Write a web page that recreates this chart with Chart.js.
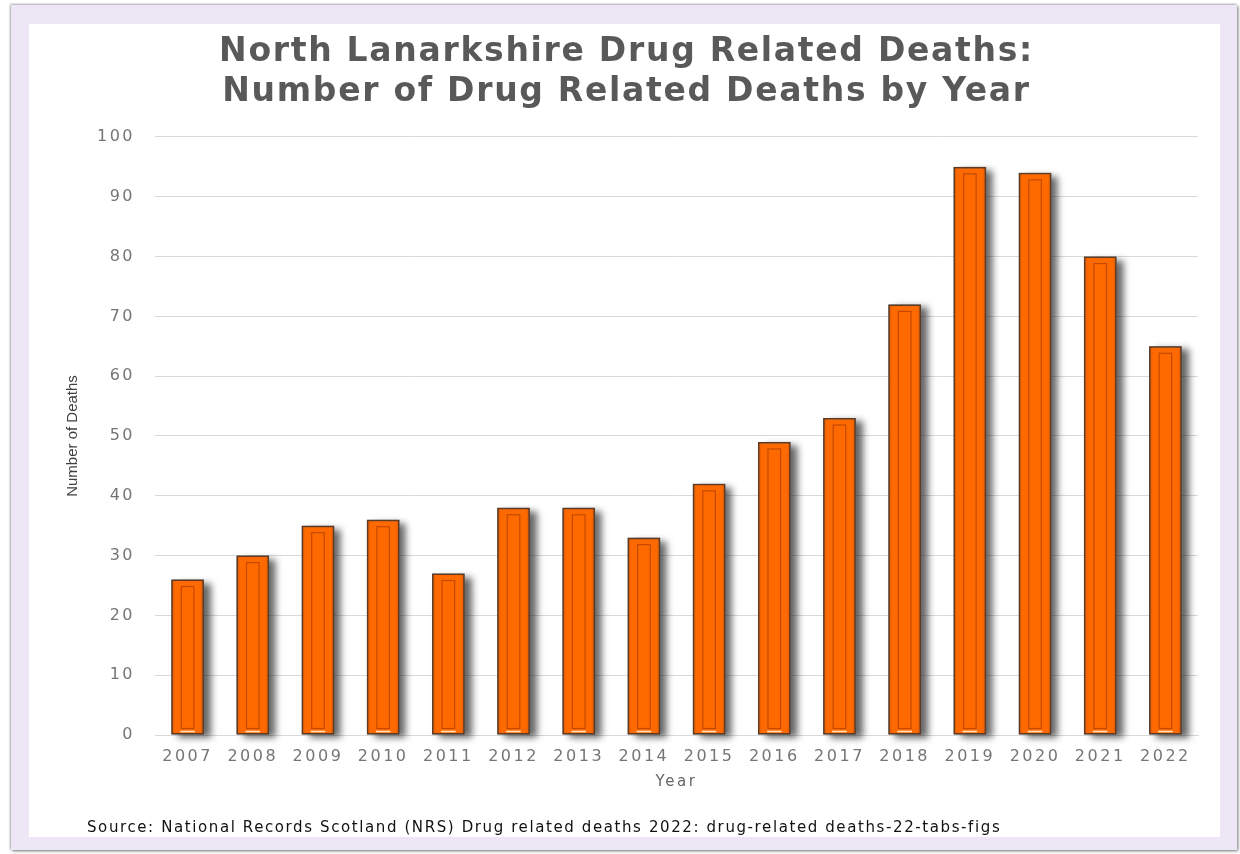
<!DOCTYPE html>
<html>
<head>
<meta charset="utf-8">
<script src="https://cdn.jsdelivr.net/npm/chart.js@4/dist/chart.umd.min.js"></script>
<style>
  html, body { margin: 0; padding: 0; background: #ffffff; width: 1240px; height: 854px; overflow: hidden; }
  #outer { position: absolute; left: 11px; top: 5px; width: 1226px; height: 845px; background: #ede6f4;
           box-shadow: 1px 1px 3px rgba(0,0,0,0.55), -1px -1px 2px rgba(0,0,0,0.25); }
  #inner { position: absolute; left: 29px; top: 24px; width: 1191px; height: 813px; background: #ffffff; }
  #wrap { position: absolute; left: 0; top: 0; width: 1240px; height: 854px; }
  #source { position: absolute; left: 87px; top: 818px; font-family: "DejaVu Sans", sans-serif; font-size: 15px; letter-spacing: 1.6px; color: #111; white-space: nowrap; }
</style>
</head>
<body>
<div id="outer"></div>
<div id="inner"></div>
<div id="wrap"><canvas id="c" width="1240" height="854"></canvas></div>
<div id="source">Source: National Records Scotland (NRS) Drug related deaths 2022: drug-related deaths-22-tabs-figs</div>
<script>
const years = ["2007","2008","2009","2010","2011","2012","2013","2014","2015","2016","2017","2018","2019","2020","2021","2022"];
const deaths = [26, 30, 35, 36, 27, 38, 38, 33, 42, 49, 53, 72, 95, 94, 80, 65];
const titleLines = ["North Lanarkshire Drug Related Deaths:", "Number of Drug Related Deaths by Year"];
const yAxisTitle = "Number of Deaths";
const xAxisTitle = "Year";

const TICK_SPACING = '2.5px';
const TITLE_SPACING = '1.7px';

function barRect(bar) {
  const p = bar.getProps(['x','y','base','width'], true);
  return { left: p.x - p.width / 2, top: Math.min(p.y, p.base), bottom: Math.max(p.y, p.base), width: p.width };
}

function withSpacing(obj, fnName, spacing) {
  if (!obj || obj['_sp_' + fnName]) return;
  const orig = obj[fnName].bind(obj);
  obj[fnName] = function(...args) {
    const ctx = this.ctx;
    const prev = ctx.letterSpacing;
    ctx.letterSpacing = spacing;
    const r = orig(...args);
    ctx.letterSpacing = prev;
    return r;
  };
  obj['_sp_' + fnName] = true;
}

const widenText = {
  id: 'widenText',
  beforeUpdate(chart) { chart.ctx.letterSpacing = TICK_SPACING; },
  beforeDraw(chart) {
    chart.ctx.letterSpacing = TICK_SPACING;
    withSpacing(chart.scales.y, 'drawTitle', '0px');
    withSpacing(chart.titleBlock, 'draw', TITLE_SPACING);
  }
};

const barDecor = {
  id: 'barDecor',
  beforeDatasetsDraw(chart) {
    const ctx = chart.ctx;
    const meta = chart.getDatasetMeta(0);
    ctx.save();
    ctx.shadowColor = 'rgba(0,0,0,0.6)';
    ctx.shadowBlur = 7;
    ctx.shadowOffsetX = 7;
    ctx.shadowOffsetY = 3;
    ctx.fillStyle = '#555555';
    meta.data.forEach(bar => {
      const r = barRect(bar);
      ctx.fillRect(r.left, r.top, r.width, r.bottom - r.top);
    });
    ctx.restore();
  },
  afterDatasetsDraw(chart) {
    const ctx = chart.ctx;
    const meta = chart.getDatasetMeta(0);
    ctx.save();
    meta.data.forEach(bar => {
      const r = barRect(bar);
      const g = ctx.createLinearGradient(r.left, 0, r.left + r.width, 0);
      g.addColorStop(0, 'rgba(150,50,0,0.35)');
      g.addColorStop(0.12, 'rgba(150,50,0,0)');
      g.addColorStop(0.88, 'rgba(150,50,0,0)');
      g.addColorStop(1, 'rgba(150,50,0,0.35)');
      ctx.fillStyle = g;
      ctx.fillRect(r.left + 1, r.top + 1, r.width - 2, r.bottom - r.top - 1);
      ctx.strokeStyle = 'rgba(190,70,0,0.9)';
      ctx.lineWidth = 1.2;
      ctx.strokeRect(r.left + 10, r.top + 7, r.width - 20, r.bottom - r.top - 13);
      ctx.strokeStyle = 'rgba(255,232,200,0.95)';
      ctx.lineWidth = 1.6;
      ctx.beginPath();
      ctx.moveTo(r.left + 9, r.bottom - 3);
      ctx.lineTo(r.left + r.width - 9, r.bottom - 3);
      ctx.stroke();
    });
    ctx.restore();
  }
};

new Chart(document.getElementById('c'), {
  type: 'bar',
  data: {
    labels: years,
    datasets: [{
      data: deaths,
      backgroundColor: '#ff6a00',
      borderColor: '#5e3a22',
      borderWidth: 1.5,
      borderSkipped: false,
      categoryPercentage: 1.0,
      barPercentage: 0.5
    }]
  },
  plugins: [widenText, barDecor],
  options: {
    responsive: false,
    animation: false,
    layout: { padding: { left: 55, right: 42, top: 32, bottom: 63 } },
    plugins: {
      legend: { display: false },
      tooltip: { enabled: false },
      title: {
        display: true,
        text: titleLines,
        color: '#595959',
        font: { family: 'DejaVu Sans', size: 33, weight: 'bold', lineHeight: 1.212 },
        padding: { top: 0, bottom: 25 }
      }
    },
    scales: {
      x: {
        grid: { display: false, drawTicks: false },
        border: { display: true, color: '#d9d9d9', width: 1 },
        ticks: { color: '#757575', font: { family: 'DejaVu Sans', size: 16 }, padding: 12, maxRotation: 0, autoSkip: false },
        title: { display: true, text: xAxisTitle, color: '#666666', font: { family: 'DejaVu Sans', size: 15 }, padding: { top: 0, bottom: 0 } },
        afterFit(scale) { scale.height = 56; }
      },
      y: {
        min: 0, max: 100,
        ticks: { stepSize: 10, color: '#757575', font: { family: 'DejaVu Sans', size: 16 }, padding: 20 },
        grid: { color: '#d9d9d9', lineWidth: 1, drawTicks: false },
        border: { display: false },
        title: { display: true, text: yAxisTitle, color: '#404040', font: { family: 'Liberation Sans', size: 15 }, padding: { top: 9, bottom: 0 } },
        afterFit(scale) { scale.width = 100; }
      }
    }
  }
});
</script>
</body>
</html>
